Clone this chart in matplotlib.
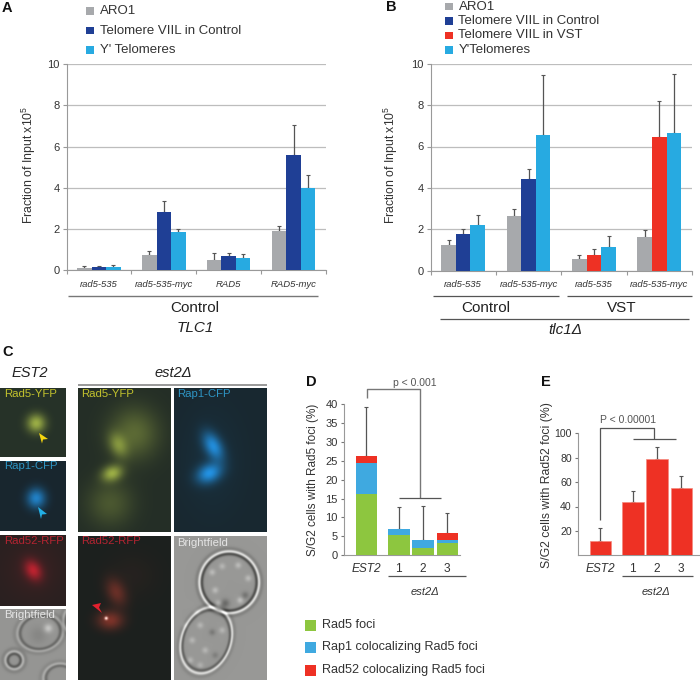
import numpy as np
import matplotlib
matplotlib.use('Agg')
import matplotlib.pyplot as plt
from matplotlib.patches import Rectangle, Polygon

plt.rcParams['font.family'] = ['Liberation Sans', 'DejaVu Sans']
plt.rcParams['mathtext.default'] = 'regular'

GRAY = '#a7a9ac'
NAVY = '#1f3f95'
CYAN = '#27aae1'
RED = '#ee3124'
GREEN = '#8dc63f'
BLUE = '#3fa9e0'
ERR = '#555555'
TXT = '#333333'

# panel A
a_labels = ['rad5-535', 'rad5-535-myc', 'RAD5', 'RAD5-myc']
a_aro1 = [0.12, 0.75, 0.52, 1.93]
a_aro1_err = [0.08, 0.20, 0.33, 0.24]
a_tel = [0.17, 2.85, 0.68, 5.60]
a_tel_err = [0.03, 0.50, 0.17, 1.43]
a_y = [0.16, 1.88, 0.60, 4.00]
a_y_err = [0.09, 0.12, 0.18, 0.62]

# panel B
b_labels = ['rad5-535', 'rad5-535-myc', 'rad5-535', 'rad5-535-myc']
b_aro1 = [1.22, 2.62, 0.55, 1.63]
b_aro1_err = [0.24, 0.36, 0.20, 0.32]
b_ctrl = [1.76, 4.44, np.nan, np.nan]
b_ctrl_err = [0.27, 0.46, np.nan, np.nan]
b_vst = [np.nan, np.nan, 0.75, 6.45]
b_vst_err = [np.nan, np.nan, 0.32, 1.75]
b_y = [2.23, 6.55, 1.15, 6.65]
b_y_err = [0.47, 2.88, 0.51, 2.85]

# panel D
d_labels = ['EST2', '1', '2', '3']
d_pos = [0, 1.33, 2.33, 3.33]
d_rad5 = [16.3, 5.4, 2.0, 3.3]
d_rap1 = [8.2, 1.6, 2.0, 0.7]
d_rad52 = [1.7, 0.0, 0.0, 1.8]
d_err = [13.1, 5.9, 9.1, 5.5]

# panel E
e_labels = ['EST2', '1', '2', '3']
e_pos = [0, 1.33, 2.33, 3.33]
e_vals = [11.5, 44, 79, 55.5]
e_err = [10.5, 9, 10, 9.5]

W, H = 700, 680
fig = plt.figure(figsize=(7, 6.8), dpi=100)


def px_axes(x0, y0, x1, y1):
    return fig.add_axes([x0 / W, 1 - y1 / H, (x1 - x0) / W, (y1 - y0) / H])


def style(ax):
    ax.spines['top'].set_visible(False)
    ax.spines['right'].set_visible(False)
    ax.spines['left'].set_color('#999999')
    ax.spines['bottom'].set_color('#999999')
    ax.patch.set_alpha(0)


def group_chart(ax, labels, series):
    style(ax)
    x = np.arange(4) + 0.5
    w = 14.5 / 65
    for k, (vals, errs, col) in enumerate(series):
        xx = x + (k - 1) * w
        ax.bar(xx, vals, w, color=col, zorder=3)
        ax.errorbar(xx, vals, yerr=[np.zeros(4), errs], fmt='none', ecolor=ERR,
                    elinewidth=0.9, capsize=1.3, capthick=0.8, zorder=2)
    ax.set_xlim(0, 4)
    ax.set_ylim(0, 10)
    ax.set_yticks(range(0, 11, 2))
    ax.tick_params(axis='y', labelsize=8, labelcolor=TXT, length=3, color='#999999', pad=2)
    ax.grid(axis='y', color='#bdbdbd', lw=0.9, zorder=0)
    ax.set_xticks(range(5))
    ax.set_xticklabels([])
    ax.tick_params(axis='x', length=3, color='#999999')
    ax.set_xticks(x, labels, minor=True, style='italic', fontsize=6.8, color=TXT)
    ax.tick_params(axis='x', which='minor', length=0, pad=6.5)
    ax.set_ylabel('Fraction of Input x10$^5$', fontsize=8.8, color=TXT)


ax_a = px_axes(66.5, 64, 326, 270.5)
group_chart(ax_a, a_labels, [(a_aro1, a_aro1_err, GRAY), (a_tel, a_tel_err, NAVY), (a_y, a_y_err, CYAN)])
ax_a.yaxis.set_label_coords(-0.11, 0.51)

ax_b = px_axes(430.5, 63.7, 692, 270.7)
group_chart(ax_b, b_labels, [(b_aro1, b_aro1_err, GRAY), (b_ctrl, b_ctrl_err, NAVY),
                             (b_y, b_y_err, CYAN)])
# the VST bars sit in the middle slot of the last two groups
ax_b.bar(np.arange(4) + 0.5, b_vst, 14.5 / 65, color=RED, zorder=3)
ax_b.errorbar(np.arange(4) + 0.5, b_vst, yerr=[np.zeros(4), b_vst_err], fmt='none', ecolor=ERR,
              elinewidth=0.9, capsize=1.3, capthick=0.8, zorder=2)
ax_b.yaxis.set_label_coords(-0.115, 0.51)

# panel D
ax_d = px_axes(344, 404, 460, 555.3)
style(ax_d)
w = 0.89
d_rad5 = np.array(d_rad5)
d_rap1 = np.array(d_rap1)
d_rad52 = np.array(d_rad52)
ax_d.bar(d_pos, d_rad5, w, color=GREEN, zorder=3)
ax_d.bar(d_pos, d_rap1, w, bottom=d_rad5, color=BLUE, zorder=3)
ax_d.bar(d_pos, d_rad52, w, bottom=d_rad5 + d_rap1, color=RED, zorder=3)
tops = d_rad5 + d_rap1 + d_rad52
ax_d.errorbar(d_pos, tops, yerr=[np.zeros(4), d_err], fmt='none', ecolor=ERR,
              elinewidth=0.9, capsize=1.2, capthick=0.8, zorder=2)
ax_d.set_xlim(-0.926, 3.85)
ax_d.set_ylim(0, 40)
ax_d.set_yticks(range(0, 41, 5))
ax_d.tick_params(axis='y', labelsize=8, labelcolor=TXT, length=2.5, pad=2, color='#777777')
ax_d.set_xticks(d_pos, d_labels, fontsize=8.6, color=TXT)
ax_d.get_xticklabels()[0].set_style('italic')
ax_d.tick_params(axis='x', length=0, pad=5.5)
ax_d.set_ylabel('S/G2 cells with Rad5 foci (%)', fontsize=8.5, color=TXT)
ax_d.yaxis.set_label_coords(-0.216, 0.5)

# panel E
ax_e = px_axes(578, 433.3, 700, 555.3)
style(ax_e)
ax_e.bar(e_pos, e_vals, 0.89, color=RED, edgecolor='#f58a7e', lw=0.5, zorder=3)
ax_e.errorbar(e_pos, e_vals, yerr=[np.zeros(4), e_err], fmt='none', ecolor=ERR,
              elinewidth=0.9, capsize=1.2, capthick=0.8, zorder=2)
ax_e.set_xlim(-0.926, 4.1)
ax_e.set_ylim(0, 100)
ax_e.set_yticks(range(20, 101, 20))
ax_e.tick_params(axis='y', labelsize=7.6, labelcolor=TXT, length=2.5, pad=2, color='#777777')
ax_e.set_xticks(e_pos, e_labels, fontsize=8.6, color=TXT)
ax_e.get_xticklabels()[0].set_style('italic')
ax_e.tick_params(axis='x', length=0, pad=5.5)
ax_e.set_ylabel('S/G2 cells with Rad52 foci (%)', fontsize=8.8, color=TXT)
ax_e.yaxis.set_label_coords(-0.204, 0.572)

# overlay in pixel coordinates for images, legends and brackets
ov = fig.add_axes([0, 0, 1, 1], zorder=10)
ov.patch.set_alpha(0)
ov.axis('off')


def txt(x, y, s, size=9, color=TXT, ha='left', **kw):
    ov.text(x, y, s, fontsize=size, color=color, ha=ha, va='center', **kw)


def line(xs, ys, color='#555555', lw=0.9):
    ov.plot(xs, ys, color=color, lw=lw, solid_capstyle='butt')


def key(x, y, s, col, box=7.5, gap=6, fs=9.5):
    ov.add_patch(Rectangle((x, y - box / 2), box, box, color=col, lw=0))
    txt(x + box + gap, y, s, fs, TXT)


def blob_field(xx, yy, cx, cy, sx, sy, ang):
    a = np.deg2rad(ang)
    dx = xx - cx
    dy = yy - cy
    u = dx * np.cos(a) + dy * np.sin(a)
    v = -dx * np.sin(a) + dy * np.cos(a)
    return u, v, np.exp(-0.5 * ((u / sx) ** 2 + (v / sy) ** 2))


def panel(box, bg, col, blobs=(), rings=(), spots=()):
    x0, y0, x1, y1 = box
    xs = np.arange(x0, x1, 0.5)
    ys = np.arange(y0, y1, 0.5)
    xx, yy = np.meshgrid(xs, ys)
    f = np.zeros_like(xx)
    for cx, cy, sx, sy, ang, amp in blobs:
        f = f + amp * blob_field(xx, yy, cx, cy, sx, sy, ang)[2]
    img = np.array(bg) + f[..., None] * (np.array(col) - np.array(bg))
    # bright-field cells: light outer wall, dark inner wall, soft outer shadow
    for cx, cy, rx, ry, ang, dark, light in rings:
        u, v, _ = blob_field(xx, yy, cx, cy, 1, 1, ang)
        r = np.sqrt((u / rx) ** 2 + (v / ry) ** 2)
        rr = (r - 1) * (rx + ry) / 2
        img = img - dark * np.exp(-0.5 * ((rr + 1.6) / 1.2) ** 2)[..., None]
        img = img + light * np.exp(-0.5 * ((rr - 0.8) / 1.0) ** 2)[..., None]
        img = img - 0.3 * dark * np.exp(-0.5 * ((rr - 3.5) / 1.5) ** 2)[..., None]
    for cx, cy, s, amp in spots:
        img = img + amp * np.exp(-0.5 * ((xx - cx) ** 2 + (yy - cy) ** 2) / s ** 2)[..., None]
    img = np.clip(img, 0, 255).astype(np.uint8)
    ov.imshow(img, extent=(x0, x1, y1, y0), aspect='auto', interpolation='bilinear', zorder=1)


YFP = (175, 195, 75)
CFP = (35, 145, 225)
RFP = (205, 35, 50)
panel((0, 388, 66, 457), (38, 50, 40), YFP, [(36, 423, 6.5, 6.5, 0, 0.85)])
panel((0, 461, 66, 531), (24, 38, 46), CFP, [(36, 498, 6.5, 7, 0, 0.85)])
panel((0, 535, 66, 606), (42, 32, 32), RFP, [(33, 570, 5.5, 7.5, -30, 0.8), (33, 570, 18, 18, 0, 0.1)])
panel((78, 388, 171, 532), (36, 46, 38), YFP,
      [(134, 433, 17, 18, 0, 0.4), (118, 445, 6, 9, -25, 0.5), (112, 473, 7.5, 5.5, -20, 0.8),
       (110, 503, 16, 16, 0, 0.28)])
panel((174, 388, 267, 532), (24, 40, 48), CFP,
      [(213, 446, 6, 10.5, -28, 0.9), (209, 473, 9, 6.5, -25, 0.95), (212, 460, 20, 34, 0, 0.07)])
panel((78, 536, 171, 680), (28, 32, 30), (190, 65, 50),
      [(116, 592, 6.5, 10, -25, 0.45), (110, 620, 9, 6.5, 0, 0.6), (132, 575, 18, 16, 0, 0.06)],
      spots=[(106, 618, 1.1, 200)])
panel((174, 536, 267, 680), (152, 152, 150), (152, 152, 150),
      rings=[(229, 582, 29, 30, 0, 75, 90), (206, 640, 24, 33, 20, 55, 80)],
      spots=[(212, 572, 2.2, 35), (222, 566, 2.2, 30), (238, 565, 2.2, 35), (248, 578, 2.2, 35),
             (245, 595, 2.5, -35), (225, 603, 3, -45), (240, 600, 2.2, 40), (215, 590, 2.2, 35),
             (218, 603, 2.2, 35), (192, 640, 2.2, 30), (200, 625, 2.2, 30), (212, 632, 2.2, -30),
             (205, 650, 2.2, 30), (190, 660, 2.2, 30), (215, 655, 2.2, -25), (200, 665, 2.2, 25),
             (222, 630, 2.2, 30), (197, 612, 2.2, 25), (185, 625, 2.2, 20)])
panel((0, 609, 66, 680), (150, 150, 148), (150, 150, 148),
      rings=[(40, 632, 22, 18, -10, 45, 25), (14, 660, 8, 8, 0, 60, 40), (60, 678, 16, 14, 0, 40, 30),
             (80, 620, 16, 16, 0, 45, 30)],
      spots=[(48, 628, 3, 50), (38, 635, 6, -15)])
ov.set_xlim(0, W)
ov.set_ylim(H, 0)

for x, y, s, c in [(4, 394, 'Rad5-YFP', '#c3c32d'), (4, 466, 'Rap1-CFP', '#2e95c4'),
                   (4, 541, 'Rad52-RFP', '#b32431'), (4, 615, 'Brightfield', '#e4e4e4'),
                   (81, 394, 'Rad5-YFP', '#c3c32d'), (177, 394, 'Rap1-CFP', '#2e95c4'),
                   (81, 541, 'Rad52-RFP', '#b32431'), (177, 543, 'Brightfield', '#e4e4e4')]:
    txt(x, y, s, 8.2, c)

for pts, c in [([(39, 433), (48, 439), (43, 439.5), (42, 443.5)], '#f5d60f'),
               ([(38, 507), (47, 514), (42, 514.5), (41, 519)], '#22b0e6'),
               ([(92, 605), (101, 603), (99, 607.5), (102, 613)], '#e3202e')]:
    ov.add_patch(Polygon(pts, closed=True, color=c, lw=0))

# panel letters
for x, y, s in [(2, 8, 'A'), (386, 7, 'B'), (2, 352, 'C'), (306, 382, 'D'), (541, 382, 'E')]:
    txt(x, y, s, 10.5, '#111111', fontweight='bold')

# legends A, B
key(86, 11, 'ARO1', GRAY)
key(86, 30.5, 'Telomere VIIL in Control', NAVY)
key(86, 50, "Y' Telomeres", CYAN)
key(445, 6.5, 'ARO1', GRAY)
key(445, 21, 'Telomere VIIL in Control', NAVY)
key(445, 35.5, 'Telomere VIIL in VST', RED)
key(445, 50, "Y'Telomeres", CYAN)

# group labels A
line([68, 318], [295.7, 295.7], '#777777', 1.0)
txt(195, 307.5, 'Control', 11, '#222222', ha='center')
txt(195, 328, 'TLC1', 11, '#222222', ha='center', style='italic')

# group labels B
line([433, 559], [296, 296], '#555555', 0.9)
line([567, 692], [296, 296], '#555555', 0.9)
txt(486, 308, 'Control', 11, '#222222', ha='center')
txt(622, 308, 'VST', 11, '#222222', ha='center')
line([440, 689], [319, 319], '#555555', 0.9)
txt(565, 330, 'tlc1\u0394', 11, '#222222', ha='center', style='italic')

# panel C headings
txt(30, 373, 'EST2', 10.5, '#222222', ha='center', style='italic')
txt(173, 373, 'est2\u0394', 10.5, '#222222', ha='center', style='italic')
line([78, 267], [385, 385], '#888888', 1.2)

# panel D brackets and labels
line([366.5, 366.5, 420, 420], [398, 389, 389, 498], '#777777', 1.0)
line([399, 441], [498, 498], '#555555', 0.9)
txt(415, 382.5, 'p < 0.001', 7.5, '#555555', ha='center')
line([388, 466], [576, 576], '#555555', 0.9)
txt(425, 592, 'est2\u0394', 8, TXT, ha='center', style='italic')

# panel E brackets and labels
line([600, 600, 654, 654], [520, 428, 428, 439], '#555555', 0.9)
line([633, 676], [439, 439], '#555555', 0.9)
txt(628, 420, 'P < 0.00001', 7.5, '#555555', ha='center')
line([622, 693], [576, 576], '#555555', 0.9)
txt(656, 592, 'est2\u0394', 8, TXT, ha='center', style='italic')

# panel D legend
key(305, 625, 'Rad5 foci', GREEN, box=11, fs=9.1)
key(305, 647, 'Rap1 colocalizing Rad5 foci', BLUE, box=11, fs=9.1)
key(305, 670, 'Rad52 colocalizing Rad5 foci', RED, box=11, fs=9.1)

fig.savefig('out.png', dpi=100)
